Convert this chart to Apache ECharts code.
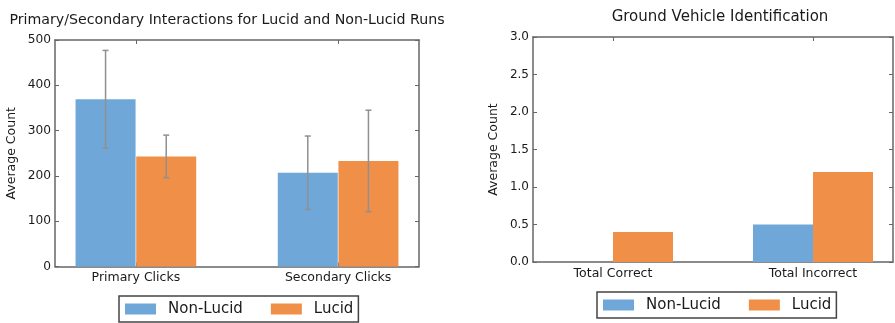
<!DOCTYPE html>
<html>
<head>
<meta charset="utf-8">
<script src="https://cdn.jsdelivr.net/npm/echarts@6/dist/echarts.min.js"></script>
<style>
html,body{margin:0;padding:0;background:#fff;}
#chart{width:895px;height:323px;}
</style>
</head>
<body>
<div id="chart"></div>
<script>
// ---- data ----
const seriesNames = ['Non-Lucid', 'Lucid'];
const leftTitle = 'Primary/Secondary Interactions for Lucid and Non-Lucid Runs';
const rightTitle = 'Ground Vehicle Identification';
const leftCategories = ['Primary Clicks', 'Secondary Clicks'];
const leftNonLucid = [369, 207];
const leftLucid = [243, 233];
const leftNonLucidErr = [108, 81];
const leftLucidErr = [47, 112];
const rightCategories = ['Total Correct', 'Total Incorrect'];
const rightNonLucid = [0, 0.5];
const rightLucid = [0.4, 1.2];
const leftYTicks = [0, 100, 200, 300, 400, 500];
const rightYTicks = [0, 0.5, 1.0, 1.5, 2.0, 2.5, 3.0];

// ---- style ----
const colors = ['#6FA8D8', '#F08F48'];
const frameColor = '#666666';
const textColor = '#1a1a1a';
const errColor = '#909090';
const font = 'DejaVu Sans';
const barHalf = 0.15;      // half of the 0.3 group offset (in category units)
const offsets = [-barHalf, barHalf];

const chart = echarts.init(document.getElementById('chart'), null, {renderer: 'canvas'});

function xAxes(gridIndex, cats) {
  const base = {
    gridIndex, type: 'value', min: -0.4, max: 1.4,
    axisLine: {show: true, onZero: false, lineStyle: {color: frameColor, width: 1.5}},
    axisTick: {show: true, inside: true, length: 4, customValues: [0, 1], lineStyle: {color: frameColor}},
    splitLine: {show: false}
  };
  return [
    Object.assign({}, base, {
      position: 'bottom',
      axisLabel: {show: true, customValues: [0, 1], margin: 5, color: textColor, fontFamily: font, fontSize: 12.5,
        formatter: v => cats[Math.round(v)]}
    }),
    Object.assign({}, base, {position: 'top', axisLabel: {show: false}})
  ];
}
function yAxes(gridIndex, ticks, fmt, gap, fs) {
  const base = {
    gridIndex, type: 'value', min: ticks[0], max: ticks[ticks.length - 1], interval: ticks[1] - ticks[0],
    axisLine: {show: true, onZero: false, lineStyle: {color: frameColor, width: 1.5}},
    axisTick: {show: true, inside: true, length: 4, lineStyle: {color: frameColor}},
    splitLine: {show: false}
  };
  return [
    Object.assign({}, base, {
      position: 'left',
      name: 'Average Count', nameLocation: 'middle', nameGap: gap, nameRotate: 90,
      nameTextStyle: {color: textColor, fontFamily: font, fontSize: 12.5},
      axisLabel: {show: true, margin: 4, color: textColor, fontFamily: font, fontSize: fs, formatter: fmt}
    }),
    Object.assign({}, base, {position: 'right', axisLabel: {show: false}})
  ];
}

function barSeries(name, vals, xi, yi, color) {
  const k = seriesNames.indexOf(name);
  return {
    type: 'bar', name, xAxisIndex: xi, yAxisIndex: yi,
    barWidth: 60, barGap: '-100%',
    itemStyle: {color},
    data: vals.map((v, i) => [i + offsets[k], v]),
    z: 2
  };
}
function errSeries(name, vals, errs, xi, yi) {
  const k = seriesNames.indexOf(name);
  return {
    type: 'custom', name: name + ' err', xAxisIndex: xi, yAxisIndex: yi, z: 5,
    encode: {x: 0, y: [1, 2]},
    data: vals.map((v, i) => [i + offsets[k], v - errs[i], v + errs[i]]),
    renderItem: function (params, api) {
      const lo = api.coord([api.value(0), api.value(1)]);
      const hi = api.coord([api.value(0), api.value(2)]);
      const cap = 3;
      const st = {stroke: errColor, lineWidth: 1.5};
      return {type: 'group', children: [
        {type: 'line', shape: {x1: lo[0], y1: lo[1], x2: hi[0], y2: hi[1]}, style: st},
        {type: 'line', shape: {x1: lo[0] - cap, y1: lo[1], x2: lo[0] + cap, y2: lo[1]}, style: st},
        {type: 'line', shape: {x1: hi[0] - cap, y1: hi[1], x2: hi[0] + cap, y2: hi[1]}, style: st}
      ]};
    },
    silent: true
  };
}

const legendBase = {
  orient: 'horizontal', itemWidth: 31, itemHeight: 11, itemGap: 28,
  padding: [5, 5, 5, 6],
  borderColor: '#444', borderWidth: 1.5, borderRadius: 0,
  icon: 'rect',
  textStyle: {color: textColor, fontFamily: font, fontSize: 15, lineHeight: 16, padding: [0, 0, 0, 7]},
  data: seriesNames
};

const option = {
  animation: false,
  backgroundColor: '#ffffff',
  title: [
    {text: leftTitle, left: 222, top: 8, textAlign: 'center',
      textStyle: {color: textColor, fontFamily: font, fontSize: 14.2, fontWeight: 'normal'}},
    {text: rightTitle, left: 715, top: 5, textAlign: 'center',
      textStyle: {color: textColor, fontFamily: font, fontSize: 15, fontWeight: 'normal'}}
  ],
  grid: [
    {left: 55, top: 40, width: 364, height: 226.5},
    {left: 533, top: 37, width: 360, height: 225}
  ],
  xAxis: [].concat(xAxes(0, leftCategories), xAxes(1, rightCategories)),
  yAxis: [].concat(
    yAxes(0, leftYTicks, v => String(v), 37, 12.2),
    yAxes(1, rightYTicks, v => v.toFixed(1), 33, 12)
  ),
  legend: [
    Object.assign({}, legendBase, {left: 119, top: 296}),
    Object.assign({}, legendBase, {left: 597, top: 292})
  ],
  series: [
    barSeries('Non-Lucid', leftNonLucid, 0, 0, colors[0]),
    barSeries('Lucid', leftLucid, 0, 0, colors[1]),
    errSeries('Non-Lucid', leftNonLucid, leftNonLucidErr, 0, 0),
    errSeries('Lucid', leftLucid, leftLucidErr, 0, 0),
    barSeries('Non-Lucid', rightNonLucid, 2, 2, colors[0]),
    barSeries('Lucid', rightLucid, 2, 2, colors[1])
  ]
};
chart.setOption(option);
</script>
</body>
</html>
